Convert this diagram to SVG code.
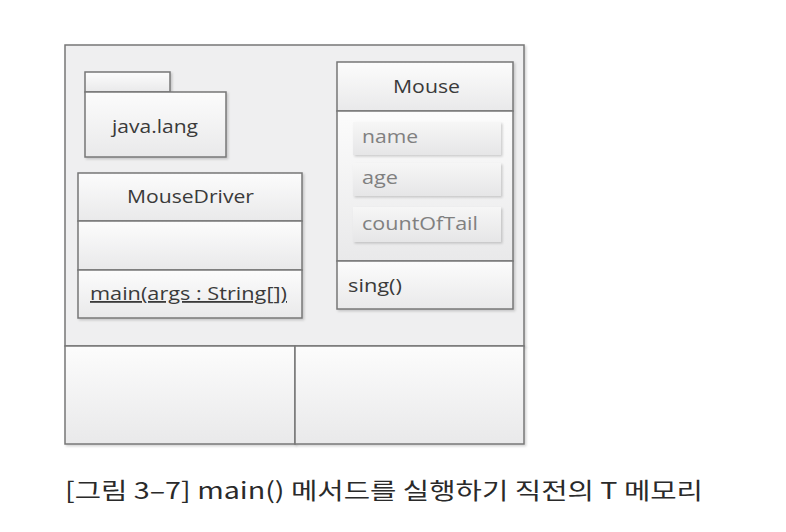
<svg xmlns="http://www.w3.org/2000/svg" width="786" height="532" viewBox="0 0 786 532">
<defs>
<linearGradient id="g" x1="0" y1="0" x2="0" y2="1">
<stop offset="0" stop-color="#fcfcfc"/>
<stop offset="1" stop-color="#e9e9ea"/>
</linearGradient>
<linearGradient id="ga" x1="0" y1="0" x2="0" y2="1">
<stop offset="0" stop-color="#f6f6f6"/>
<stop offset="1" stop-color="#e6e6e7"/>
</linearGradient>
<filter id="sh" x="-5%" y="-5%" width="112%" height="115%">
<feDropShadow dx="1.5" dy="1.5" stdDeviation="1" flood-color="#000" flood-opacity="0.18"/>
</filter>
</defs>
<style>
.box{fill:url(#g);stroke:#777;stroke-width:1.5;filter:url(#sh)}
.cmp{fill:url(#g);stroke:#777;stroke-width:1.5}
.attr{fill:url(#ga);stroke:none;filter:url(#sh)}
.t{font-family:"Open Sans",Lato,"Liberation Sans",sans-serif;font-size:18px;fill:#3a3a3a}
.a{font-family:"Open Sans",Lato,"Liberation Sans",sans-serif;font-size:18px;fill:#808080}
.cap{font-family:"Noto Sans CJK KR","Noto Sans",sans-serif;font-size:23px;font-weight:400;fill:#2a2a2a}
</style>
<rect width="786" height="532" fill="#fff"/>
<g id="memory">
<rect x="65" y="45" width="459" height="301" fill="#efeff0" stroke="#777" stroke-width="1.5" filter="url(#sh)"/>
<rect class="box" x="65" y="346" width="230" height="98"/>
<rect class="box" x="295" y="346" width="229" height="98"/>
</g>
<g id="java-lang">
<rect class="box" x="85" y="72" width="85" height="20"/>
<rect class="box" x="85" y="92" width="141" height="65"/>
<text class="t" x="112" y="133" textLength="86" lengthAdjust="spacingAndGlyphs">java.lang</text>
</g>
<g id="MouseDriver">
<g filter="url(#sh)">
<rect class="cmp" x="78" y="173" width="224" height="48"/>
<rect class="cmp" x="78" y="221" width="224" height="49"/>
<rect class="cmp" x="78" y="270" width="224" height="48"/>
</g>
<text class="t" x="127" y="203" textLength="127" lengthAdjust="spacingAndGlyphs">MouseDriver</text>
<text class="t" x="90" y="300" textLength="197" lengthAdjust="spacingAndGlyphs" text-decoration="underline">main(args : String[])</text>
</g>
<g id="Mouse">
<g filter="url(#sh)">
<rect class="cmp" x="337" y="62" width="176" height="49"/>
<rect class="cmp" x="337" y="111" width="176" height="150"/>
<rect class="cmp" x="337" y="261" width="176" height="48"/>
</g>
<text class="t" x="393" y="93" textLength="67" lengthAdjust="spacingAndGlyphs">Mouse</text>
<rect class="attr" x="353" y="122" width="148" height="33"/>
<rect class="attr" x="353" y="163" width="148" height="33"/>
<rect class="attr" x="353" y="207" width="148" height="35"/>
<text class="a" x="362" y="143" textLength="56" lengthAdjust="spacingAndGlyphs">name</text>
<text class="a" x="362" y="184" textLength="36" lengthAdjust="spacingAndGlyphs">age</text>
<text class="a" x="362" y="230" textLength="116" lengthAdjust="spacingAndGlyphs">countOfTail</text>
<text class="t" x="348" y="292" textLength="54" lengthAdjust="spacingAndGlyphs">sing()</text>
</g>
<g id="connectors"></g>
<text class="cap" x="65" y="499" textLength="638" lengthAdjust="spacingAndGlyphs">[그림 3–7] main() 메서드를 실행하기 직전의 T 메모리</text>
</svg>
